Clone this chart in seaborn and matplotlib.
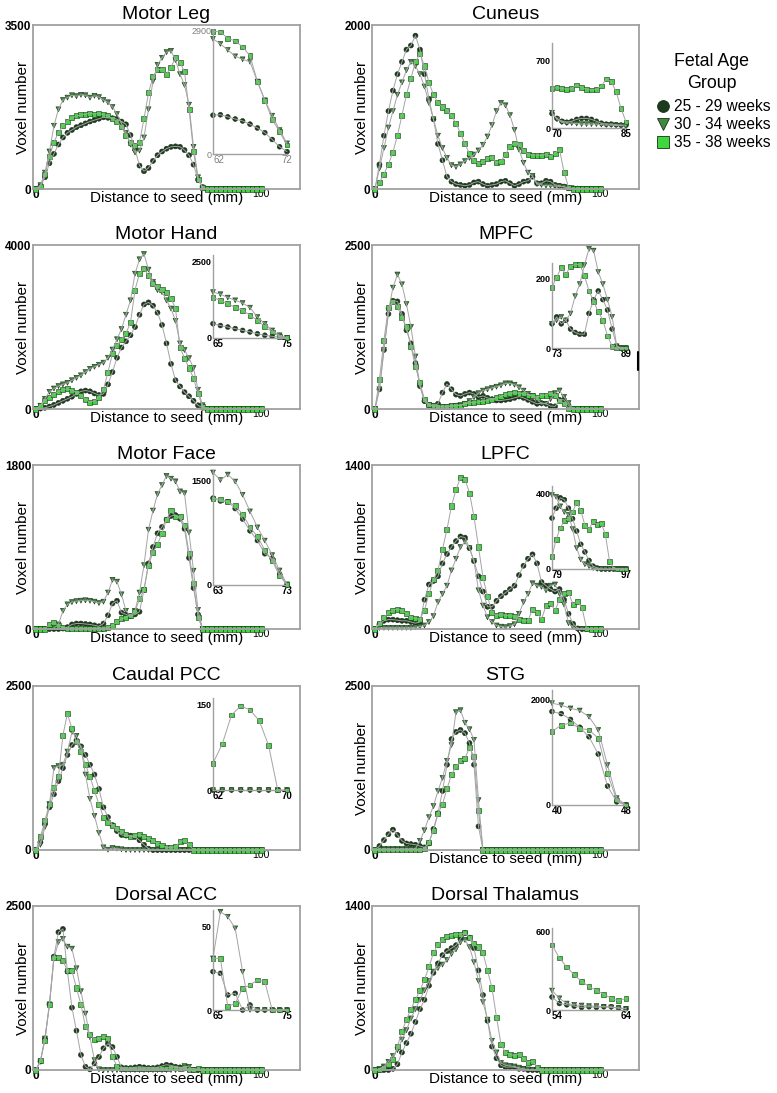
import pandas as pd
import matplotlib
matplotlib.use('Agg')
import matplotlib.pyplot as plt
import seaborn as sns
from matplotlib.lines import Line2D

# ---- data -----------------------------------------------------------------
dist = list(range(0, 101, 2))          # distance to seed (mm), main panels
groups = ['25 - 29 weeks', '30 - 34 weeks', '35 - 38 weeks']

# Motor Leg
leg_25 = [0, 60, 250, 550, 750, 950, 1100, 1200, 1260, 1320, 1360, 1400, 1440, 1470, 1500, 1530, 1520, 1510, 1490,
          1440, 1380, 1150, 850, 500, 380, 450, 600, 720, 800, 860, 900, 910, 900, 830, 720, 520, 200, 40]
leg_30 = [0, 80, 350, 800, 1350, 1700, 1900, 1950, 2000, 1980, 2010, 2000, 1950, 1990, 1960, 1900, 1850, 1750, 1600,
          1400, 1200, 950, 780, 820, 1100, 1700, 2300, 2650, 2800, 2920, 2950, 2750, 2450, 2220, 1800, 900, 250, 30]
leg_35 = [0, 50, 300, 700, 1000, 1200, 1350, 1450, 1520, 1560, 1580, 1600, 1610, 1600, 1610, 1590, 1560, 1500, 1430,
          1330, 1150, 1000, 930, 1000, 1500, 2050, 2400, 2550, 2550, 2450, 2600, 2800, 2700, 2500, 1700, 800, 210, 30]
leg_in_x = list(range(62, 73))
leg_in_25 = [910, 920, 870, 820, 775, 700, 610, 500, 340, 170, 55]
leg_in_30 = [2700, 2580, 2440, 2290, 2220, 2160, 1700, 1260, 900, 560, 250]
leg_in_35 = [2880, 2860, 2710, 2650, 2510, 2300, 1700, 1260, 810, 520, 210]

# Cuneus
cun_25 = [0, 300, 650, 950, 1200, 1400, 1550, 1700, 1750, 1870, 1700, 1400, 1100, 850, 550, 350, 150, 90, 60, 50,
          40, 50, 80, 90, 60, 40, 50, 60, 90, 100, 70, 40, 60, 90, 100, 150, 70, 70, 100, 90, 50, 40, 30, 10, 10, 5]
cun_30 = [0, 250, 500, 750, 950, 1150, 1300, 1450, 1550, 1500, 1400, 1250, 1050, 850, 650, 500, 380, 290, 270, 300,
          340, 380, 420, 470, 540, 640, 780, 950, 1050, 1020, 900, 720, 480, 320, 200, 160, 60, 50, 40, 40, 35, 30,
          25, 10]
cun_35 = [0, 80, 180, 300, 450, 650, 900, 1150, 1350, 1550, 1650, 1500, 1300, 1150, 1050, 1000, 960, 900, 800, 680,
          550, 430, 350, 310, 330, 370, 390, 320, 340, 420, 520, 560, 540, 470, 420, 413, 413, 410, 420, 395, 437,
          483, 203, 20]
cun_in_x = list(range(70, 86))
cun_in_25 = [150, 100, 70, 60, 70, 90, 100, 100, 90, 70, 50, 40, 40, 35, 30, 30]
cun_in_30 = [160, 90, 60, 50, 50, 45, 40, 40, 40, 40, 35, 30, 30, 25, 25, 20]
cun_in_35 = [413, 420, 413, 402, 410, 448, 420, 402, 395, 402, 437, 511, 483, 378, 203, 63]

# Motor Hand
hand_25 = [0, 10, 30, 60, 100, 150, 200, 250, 300, 370, 430, 450, 430, 380, 340, 370, 600, 900, 1250, 1500, 1650,
           1800, 2000, 2300, 2550, 2600, 2520, 2350, 2050, 1600, 1100, 700, 550, 410, 310, 200, 90, 30]
hand_30 = [0, 80, 250, 420, 500, 560, 600, 640, 700, 760, 820, 900, 980, 1030, 1080, 1130, 1250, 1450, 1700, 1950,
           2300, 2650, 3300, 3650, 3780, 3400, 3100, 2900, 2850, 2650, 2450, 2150, 1600, 1440, 1240, 1000, 470, 90]
hand_35 = [0, 80, 200, 290, 360, 420, 470, 490, 460, 400, 330, 230, 170, 190, 280, 480, 900, 1350, 1550, 1700, 1850,
           2100, 2900, 3300, 3430, 3250, 3050, 2980, 2920, 2850, 2700, 2450, 1500, 1240, 1000, 750, 380, 55]
hand_in_x = list(range(65, 76))
hand_in_25 = [470, 410, 360, 310, 250, 200, 140, 90, 55, 30, 10]
hand_in_30 = [1510, 1440, 1330, 1240, 1150, 1000, 690, 470, 250, 90, 10]
hand_in_35 = [1330, 1240, 1130, 1000, 910, 750, 580, 380, 200, 55, 10]

# MPFC
mpfc_25 = [0, 300, 900, 1450, 1650, 1640, 1450, 1200, 1000, 700, 350, 120, 60, 50, 80, 250, 380, 300, 220, 200, 230,
           250, 230, 180, 200, 170, 150, 130, 130, 140, 150, 170, 190, 170, 140, 110, 80, 90, 80, 45, 40, 140, 140, 55]
mpfc_30 = [0, 300, 900, 1500, 1850, 2050, 1900, 1600, 1250, 800, 350, 120, 60, 40, 30, 30, 30, 40, 50, 60, 80, 120,
           180, 240, 280, 300, 320, 340, 360, 390, 390, 370, 330, 280, 230, 200, 150, 80, 80, 150, 240, 282, 185, 90]
mpfc_35 = [0, 450, 1050, 1550, 1640, 1560, 1400, 1250, 950, 650, 400, 150, 70, 50, 45, 45, 45, 50, 50, 60, 80, 95,
           100, 110, 120, 130, 150, 170, 190, 220, 240, 250, 240, 230, 210, 200, 180, 205, 213, 242, 210, 135, 80, 5]
mpfc_in_x = list(range(73, 90))
mpfc_in_25 = [70, 90, 70, 80, 55, 45, 40, 40, 100, 140, 165, 140, 110, 55, 5, 0, 0]
mpfc_in_30 = [70, 80, 90, 80, 100, 150, 185, 240, 287, 282, 220, 185, 140, 90, 5, 0, 0]
mpfc_in_35 = [175, 205, 232, 213, 237, 242, 242, 210, 165, 135, 105, 80, 35, 5, 0, 0, 0]

# Motor Face
face_25 = [0, 0, 0, 0, 0, 0, 5, 20, 50, 60, 60, 55, 50, 40, 30, 60, 150, 280, 310, 180, 160, 140, 160, 190, 430,
           720, 900, 1050, 1120, 1200, 1240, 1250, 1210, 1100, 780, 450, 160]
face_30 = [0, 0, 0, 0, 10, 50, 200, 270, 295, 305, 311, 315, 310, 300, 285, 300, 400, 540, 520, 380, 200, 140, 200,
           400, 700, 1090, 1300, 1480, 1580, 1680, 1650, 1620, 1510, 1490, 1060, 640, 210]
face_35 = [0, 0, 0, 50, 75, 40, 15, 10, 10, 10, 10, 10, 10, 10, 10, 10, 15, 40, 80, 110, 130, 150, 190, 330, 430,
           700, 840, 930, 1050, 1200, 1300, 1240, 1230, 1140, 830, 500, 130]
face_in_x = list(range(63, 74))
face_in_25 = [1250, 1210, 1200, 1100, 950, 780, 640, 450, 380, 160, 5]
face_in_30 = [1620, 1510, 1590, 1490, 1300, 1060, 830, 640, 430, 210, 10]
face_in_35 = [1250, 1230, 1200, 1140, 1020, 830, 700, 500, 350, 130, 5]

# LPFC
lpfc_25 = [0, 40, 70, 80, 80, 75, 70, 70, 60, 50, 60, 250, 380, 410, 450, 560, 640, 700, 750, 790, 780, 690, 580,
           450, 320, 190, 190, 240, 280, 310, 340, 370, 460, 540, 600, 637, 560, 400, 370, 340, 320, 340, 250, 130,
           45, 5]
lpfc_30 = [0, 10, 10, 10, 10, 10, 10, 10, 10, 15, 20, 30, 60, 110, 230, 300, 370, 500, 600, 700, 745, 690, 580, 330,
           200, 100, 60, 30, 20, 15, 25, 40, 130, 230, 300, 390, 370, 360, 330, 370, 380, 300, 210, 50, 15]
lpfc_35 = [0, 50, 100, 140, 160, 170, 160, 130, 100, 90, 85, 160, 300, 420, 500, 680, 850, 1050, 1190, 1290, 1280,
           1160, 960, 700, 440, 280, 140, 115, 125, 115, 113, 110, 85, 71, 71, 170, 140, 85, 198, 220, 154, 255, 300,
           310, 210, 235, 180, 5]
lpfc_in_x = list(range(79, 98))
lpfc_in_25 = [268, 320, 375, 365, 320, 265, 200, 130, 90, 45, 15, 5, 0, 0, 0, 0, 0, 0, 0]
lpfc_in_30 = [390, 380, 330, 300, 285, 210, 110, 50, 25, 15, 5, 0, 0, 0, 0, 0, 0, 0, 0]
lpfc_in_35 = [67, 154, 216, 255, 265, 300, 350, 310, 230, 210, 250, 235, 240, 180, 40, 5, 0, 0, 0]

# Caudal PCC
pcc_25 = [0, 120, 400, 650, 850, 1050, 1250, 1450, 1600, 1670, 1580, 1450, 1300, 1150, 930, 650, 500, 380, 290, 230,
          220, 219, 200, 150, 80, 20]
pcc_30 = [0, 80, 350, 700, 1250, 1280, 1300, 1500, 1800, 1740, 1560, 1150, 780, 520, 260, 40, 5, 30, 20, 10]
pcc_35 = [0, 200, 450, 700, 950, 1120, 1750, 2080, 1850, 1650, 1500, 1300, 1120, 900, 700, 500, 420, 370, 330, 280,
          240, 200, 220, 235, 200, 180, 140, 100, 70, 40, 40, 47, 132, 141, 79]
pcc_in_x = list(range(62, 71))
pcc_in_25 = [0, 0, 0, 0, 0, 0, 0, 0, 0]
pcc_in_30 = [0, 0, 0, 0, 0, 0, 0, 0, 0]
pcc_in_35 = [47, 81, 132, 148, 141, 122, 79, 0, 0]

# STG
stg_25 = [0, 60, 150, 240, 310, 230, 140, 100, 90, 80, 60, 40, 100, 320, 560, 900, 1300, 1690, 1800, 1830, 1780,
          1630, 1300, 360]
stg_30 = [0, 10, 15, 15, 15, 15, 15, 15, 15, 20, 140, 300, 500, 670, 900, 1100, 1360, 1600, 2100, 2130, 1940, 1840,
          1680, 760]
stg_35 = [0, 10, 10, 10, 10, 10, 10, 10, 10, 10, 10, 20, 120, 300, 550, 700, 930, 1150, 1270, 1360, 1400, 1560, 1430,
          600]
stg_in_x = list(range(40, 49))
stg_in_25 = [1780, 1740, 1630, 1480, 1300, 970, 360, 60, 0]
stg_in_30 = [1940, 1900, 1840, 1800, 1680, 1430, 760, 130, 0]
stg_in_35 = [1400, 1520, 1560, 1460, 1430, 1270, 600, 95, 0]

# Dorsal ACC
acc_25 = [0, 130, 480, 1000, 1730, 2100, 2150, 1500, 950, 600, 230, 50, 10, 100, 200, 330, 400, 350, 200, 40, 30, 30,
          40, 50, 40, 30, 30, 40, 60, 80, 70, 50, 40, 23, 10, 3]
acc_30 = [0, 130, 480, 1000, 1700, 1950, 2000, 1880, 1850, 1550, 1200, 860, 500, 150, 10, 0, 0, 0, 0, 0, 0, 0, 0,
          0, 0, 0, 0, 0, 0, 0, 0, 0, 20, 59, 49]
acc_35 = [0, 150, 450, 1000, 1720, 1720, 1670, 1510, 1510, 1250, 1000, 660, 540, 470, 480, 508, 480, 200, 60, 25,
          20, 20, 20, 20, 30, 30, 30, 20, 20, 30, 40, 40, 30, 31, 4, 15, 17]
acc_in_x = list(range(65, 76))
acc_in_25 = [23, 22, 9, 10, 0, 3, 0, 0, 0, 0, 0]
acc_in_30 = [31, 59, 56, 49, 23, 0, 0, 0, 0, 0, 0]
acc_in_35 = [31, 31, 2, 4, 13, 15, 18, 17, 0, 0, 0]

# Dorsal Thalamus
thal_25 = [0, 0, 0, 0, 10, 50, 150, 230, 310, 410, 520, 600, 720, 830, 910, 980, 1015, 1040, 1065, 1120, 1170, 1130,
           1040, 850, 640, 420, 200, 100, 40, 25, 25, 25, 10, 10]
thal_30 = [0, 10, 30, 70, 120, 170, 260, 340, 440, 520, 600, 680, 760, 840, 870, 900, 940, 990, 1030, 1090, 1110,
           1050, 920, 760, 580, 430, 250, 150, 60, 40, 35, 30, 20, 10, 5]
thal_35 = [0, 5, 20, 50, 90, 200, 330, 430, 520, 600, 680, 770, 880, 1000, 1070, 1110, 1140, 1150, 1160, 1160, 1170,
           1130, 1080, 1050, 1000, 850, 700, 450, 220, 150, 130, 125, 135, 100, 65, 75, 25]
thal_in_x = list(range(54, 65))
thal_in_25 = [100, 50, 40, 30, 20, 25, 20, 25, 25, 15, 10]
thal_in_30 = [150, 90, 50, 40, 35, 30, 30, 25, 20, 15, 10]
thal_in_35 = [500, 400, 330, 270, 220, 180, 150, 120, 90, 70, 90]

# ---- styling ---------------------------------------------------------------
W, H = 777, 1093
palette = dict(zip(groups, ['#1c3a1c', '#3f8a3f', '#3ed83e']))
markers = dict(zip(groups, ['o', 'v', 's']))
line_col = '#a4a4a4'
spine_col = '#a0a0a0'
edge_col = '#1a2e1a'


def long_frame(x, series):
    parts = []
    for g, vals in zip(groups, series):
        v = list(vals) + [0] * (len(x) - len(vals))   # remaining points sit at 0
        parts.append(pd.DataFrame({'dist': x, 'voxels': v, 'group': g}))
    return pd.concat(parts, ignore_index=True)


def draw_series(ax, df, size):
    for g in groups:
        sns.lineplot(data=df[df['group'] == g], x='dist', y='voxels', color=line_col,
                     linewidth=0.7, errorbar=None, ax=ax, legend=False)
    sns.scatterplot(data=df, x='dist', y='voxels', hue='group', style='group',
                    palette=palette, markers=markers, s=size, edgecolor=edge_col,
                    linewidth=0.4, ax=ax, legend=False)
    for art in list(ax.lines) + list(ax.collections):
        art.set_clip_on(False)


def box(left, top, w, h):
    return [left / W, 1 - (top + h) / H, w / W, h / H]


col_left = [33, 372]
row_top = [25, 245, 465, 686, 906]

# title, col, row, ymax, series, inset x, inset series, inset ylim top, inset tick, inset (top, bottom), labels
panels = [
    ('Motor Leg', 0, 0, 3500, (leg_25, leg_30, leg_35), leg_in_x, (leg_in_25, leg_in_30, leg_in_35), 2930, 2900, (29, 154), True),
    ('Cuneus', 1, 0, 2000, (cun_25, cun_30, cun_35), cun_in_x, (cun_in_25, cun_in_30, cun_in_35), 885, 700, (43, 128), True),
    ('Motor Hand', 0, 1, 4000, (hand_25, hand_30, hand_35), hand_in_x, (hand_in_25, hand_in_30, hand_in_35), 2730, 2500, (255, 338), True),
    ('MPFC', 1, 1, 2500, (mpfc_25, mpfc_30, mpfc_35), mpfc_in_x, (mpfc_in_25, mpfc_in_30, mpfc_in_35), 246, 200, (263, 348), True),
    ('Motor Face', 0, 2, 1800, (face_25, face_30, face_35), face_in_x, (face_in_25, face_in_30, face_in_35), 1655, 1500, (470, 585), True),
    ('LPFC', 1, 2, 1400, (lpfc_25, lpfc_30, lpfc_35), lpfc_in_x, (lpfc_in_25, lpfc_in_30, lpfc_in_35), 437, 400, (486, 569), True),
    ('Caudal PCC', 0, 3, 2500, (pcc_25, pcc_30, pcc_35), pcc_in_x, (pcc_in_25, pcc_in_30, pcc_in_35), 162, 150, (698, 790), False),
    ('STG', 1, 3, 2500, (stg_25, stg_30, stg_35), stg_in_x, (stg_in_25, stg_in_30, stg_in_35), 2190, 2000, (690, 805), True),
    ('Dorsal ACC', 0, 4, 2500, (acc_25, acc_30, acc_35), acc_in_x, (acc_in_25, acc_in_30, acc_in_35), 60, 50, (910, 1010), True),
    ('Dorsal Thalamus', 1, 4, 1400, (thal_25, thal_30, thal_35), thal_in_x, (thal_in_25, thal_in_30, thal_in_35), 630, 600, (928, 1010), True),
]

sns.set_theme(style='white')
plt.rcParams['font.family'] = ['Liberation Sans', 'DejaVu Sans']
plt.rcParams['text.color'] = 'black'
plt.rcParams['axes.labelcolor'] = 'black'
plt.rcParams['xtick.color'] = 'black'
plt.rcParams['ytick.color'] = 'black'

fig = plt.figure(figsize=(W / 100, H / 100), dpi=100)

for title, c, r, ymax, series, in_x, in_series, in_top, in_tick, in_tb, labels in panels:
    ax = fig.add_axes(box(col_left[c], row_top[r], 267, 164))
    draw_series(ax, long_frame(dist, series), 13)
    ax.set_xlim(-1.3, 117.3)
    ax.set_ylim(0, ymax)
    ax.set_xticks([0, 100])
    ax.set_xticklabels(['0', '100'], fontsize=7.5)
    ax.get_xticklabels()[0].set_fontweight('bold')
    ax.get_xticklabels()[0].set_fontsize(8.5)
    ax.set_yticks([0, ymax])
    ax.set_yticklabels(['0', str(ymax)], fontsize=8.5, fontweight='bold')
    ax.tick_params(length=0, pad=1)
    ax.tick_params(axis='x', pad=0)
    for sp in ax.spines.values():
        sp.set_color(spine_col)
        sp.set_linewidth(1.3)
    ax.set_title(title, fontsize=14, pad=4)
    if labels:
        ax.set_xlabel('Distance to seed (mm)', fontsize=11)
        ax.set_ylabel('Voxel number', fontsize=11)
    else:
        ax.set_xlabel('')
        ax.set_ylabel('')
    ax.xaxis.set_label_coords(0.5, -0.015)
    ax.yaxis.set_label_coords(-0.01, 0.5)

    # zoomed inset of the tail
    top, bottom = in_tb
    iax = fig.add_axes(box(col_left[c] + 180, top, 74, bottom - top))
    iax.patch.set_alpha(0)
    draw_series(iax, long_frame(in_x, in_series), 12)
    iax.set_xlim(in_x[0], in_x[-1])
    iax.set_ylim(0, in_top)
    iax.set_xticks([in_x[0], in_x[-1]])
    iax.set_yticks([0, in_tick])
    tick_col = '#808080' if title == 'Motor Leg' else 'black'
    tick_w = 'normal' if title == 'Motor Leg' else 'bold'
    xl = iax.set_xticklabels([str(in_x[0]), str(in_x[-1])], fontsize=7, color=tick_col, fontweight=tick_w)
    xl[0].set_horizontalalignment('left')
    iax.set_yticklabels(['0', str(in_tick)], fontsize=6.5, color=tick_col, fontweight=tick_w)
    iax.tick_params(length=0, pad=1)
    iax.set_xlabel('')
    iax.set_ylabel('')
    for side in ['top', 'right']:
        iax.spines[side].set_visible(False)
    for side in ['left', 'bottom']:
        iax.spines[side].set_color(spine_col)
        iax.spines[side].set_linewidth(1.0)

# small black mark at the right edge of the MPFC panel
fig.add_artist(Line2D([638 / W, 638 / W], [1 - 352 / H, 1 - 370 / H], color='black', lw=1.5))

# legend: title lines, then the three groups
fig.text(712 / W, 1 - 62 / H, 'Fetal Age', ha='center', va='center', fontsize=12.8)
fig.text(712 / W, 1 - 83 / H, 'Group', ha='center', va='center', fontsize=12.8)
handles = [Line2D([], [], linestyle='none', marker=markers[g], markersize=8.5,
                  markerfacecolor=palette[g], markeredgecolor=edge_col, markeredgewidth=0.6)
           for g in groups]
fig.legend(handles, groups, loc='upper left', bbox_to_anchor=(655 / W, 1 - 99 / H),
           frameon=False, fontsize=11.2, handletextpad=0.2, labelspacing=0.2,
           handlelength=1.0, borderaxespad=0, borderpad=0)

fig.savefig('out.png', dpi=100)
